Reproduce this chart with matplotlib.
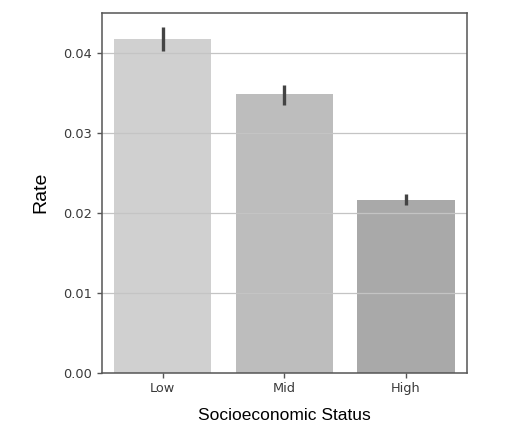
import matplotlib
matplotlib.use('Agg')
import matplotlib.pyplot as plt
import numpy as np

categories = ['Low', 'Mid', 'High']
rates = [0.0417, 0.0348, 0.0216]
ci_low = [0.0402, 0.0335, 0.0210]
ci_high = [0.0432, 0.0360, 0.0223]
colors = ['#d0d0d0', '#bdbdbd', '#a9a9a9']
yticks = [0.00, 0.01, 0.02, 0.03, 0.04]

fig = plt.figure(figsize=(5.17, 4.41), dpi=100)
ax = fig.add_axes([0.1967, 0.155, 0.706, 0.816])

x = np.arange(len(categories))
ax.bar(x, rates, width=0.8, color=colors, zorder=1)

# grid lines above the bars, like the reference
for t in yticks[1:]:
    ax.axhline(t, color='#c4c4c4', lw=0.9, zorder=2)

rates_a = np.array(rates)
yerr = [rates_a - np.array(ci_low), np.array(ci_high) - rates_a]
ax.errorbar(x, rates, yerr=yerr, fmt='none', ecolor='#444444', elinewidth=2.4, capsize=0, zorder=3)

ax.set_xlim(-0.5, 2.5)
ax.set_ylim(0, 0.045)
ax.set_xticks(x)
ax.set_xticklabels(categories)
ax.set_yticks(yticks)
ax.set_yticklabels([f'{t:.2f}' for t in yticks])
ax.tick_params(labelsize=9.3, colors='#555555', labelcolor='#3a3a3a', length=3.5, width=1)
for s in ax.spines.values():
    s.set_color('#555555')
    s.set_linewidth(1.1)

ax.set_xlabel('Socioeconomic Status', fontname='Liberation Sans', fontsize=12.5, labelpad=9)
ax.set_ylabel('Rate', fontname='Liberation Sans', fontsize=14, labelpad=10)

fig.savefig('out.png', dpi=100)
